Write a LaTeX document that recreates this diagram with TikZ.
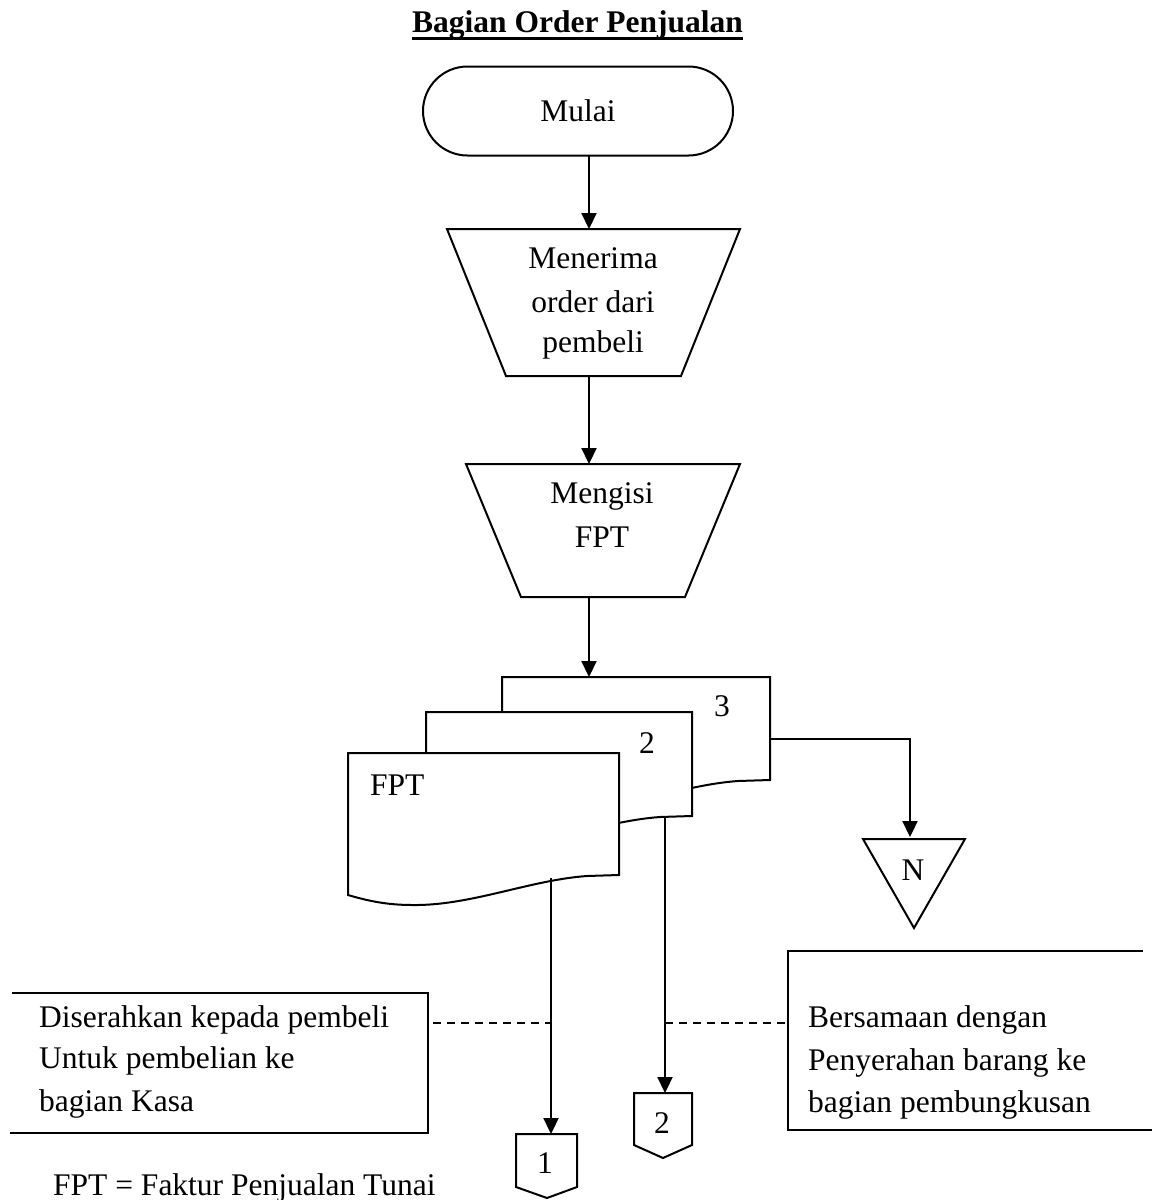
\documentclass[tikz,border=0pt]{standalone}
\usepackage{fontspec}
\setmainfont{Liberation Serif}
\usetikzlibrary{arrows.meta}
\tikzset{
  shp/.style={line width=2pt, line join=miter},
  flow/.style={line width=2.2pt, -{Triangle[length=16pt,width=15pt]}},
  txt/.style={inner sep=0pt, font=\fontsize{31.5}{41}\selectfont},
  dashln/.style={line width=1.5pt, dash pattern=on 8pt off 6pt},
}
\begin{document}
\begin{tikzpicture}[x=1pt,y=-1pt]
\useasboundingbox (0,0) rectangle (1152,1200);

% title
\node[txt, font=\fontsize{31.5}{41}\selectfont\bfseries, anchor=base] (title) at (577.5,32) {Bagian Order Penjualan};
\draw[line width=3pt] ([yshift=-6pt]title.base west) -- ([yshift=-6pt]title.base east);

% start
\node[shp, draw, rounded corners=44.5pt, minimum width=310pt, minimum height=89pt, txt] (mulai) at (578,111) {Mulai};

% manual operation 1
\draw[shp] (447,229) -- (740,229) -- (681,376) -- (506,376) -- cycle;
\node[txt, anchor=base] (t1a) at (593,268) {Menerima};
\node[txt, anchor=base] (t1b) at (593,312) {order dari};
\node[txt, anchor=base] (t1c) at (593,352) {pembeli};

% manual operation 2
\draw[shp] (466,464) -- (740,464) -- (685,597) -- (521,597) -- cycle;
\node[txt, anchor=base] (t2a) at (602,503) {Mengisi};
\node[txt, anchor=base] (t2b) at (602,547) {FPT};

% connection points
\coordinate (m1) at (589,156);
\coordinate (op1top) at (589,229);
\coordinate (op1bot) at (589,376);
\coordinate (op2top) at (589,464);
\coordinate (op2bot) at (589,597);
\coordinate (doctop) at (589,677);

\draw[flow] (m1) -- (op1top);
\draw[flow] (op1bot) -- (op2top);
\draw[flow] (op2bot) -- (doctop);

% documents
\draw[shp, fill=white] (502,677) -- (770,677) -- (770,780) -- (738,781)
  .. controls (681,785) and (621,811) .. (563,810)
  .. controls (536,810) and (519,805) .. (502,800) -- cycle;
\node[txt, anchor=base] (n3) at (722,716) {3};
\draw[shp, fill=white] (426,712) -- (692,712) -- (692,816) -- (660,817)
  .. controls (603,821) and (543,847) .. (485,846)
  .. controls (458,846) and (441,841) .. (426,836) -- cycle;
\node[txt, anchor=base] (n2) at (647,753) {2};
\draw[shp, fill=white] (348,753) -- (619,753) -- (619,875) -- (587,876)
  .. controls (530,880) and (470,906) .. (412,905)
  .. controls (385,905) and (365,900) .. (348,895) -- cycle;
\node[txt, anchor=base west] (fpt) at (370,795) {FPT};

% off-page / file symbols
\draw[shp] (863,839) -- (965,839) -- (914,928) -- cycle;
\node[txt, anchor=base] (nfile) at (913,880) {N};
\draw[shp] (516,1134) -- (577,1134) -- (577,1187) -- (547,1198) -- (516,1187) -- cycle;
\node[txt, anchor=base] (c1) at (545,1173) {1};
\draw[shp] (634,1093) -- (692,1093) -- (692,1145) -- (663,1158) -- (634,1145) -- cycle;
\node[txt, anchor=base] (c2) at (662,1133) {2};

\coordinate (d3r) at (770,739);
\coordinate (nbend) at (910,739);
\coordinate (ntop) at (910,837);
\coordinate (d1b) at (551,878);
\coordinate (c1top) at (551,1134);
\coordinate (d2b) at (665,816);
\coordinate (c2top) at (665,1093);

\draw[flow] (d3r) -- (nbend) -- (ntop);
\draw[flow] (d1b) -- (c1top);
\draw[flow] (d2b) -- (c2top);

% annotations
\draw[shp] (12,993) -- (428,993) -- (428,1133) -- (10,1133);
\node[txt, anchor=base west] (la) at (39,1027) {Diserahkan kepada pembeli};
\node[txt, anchor=base west] (lb) at (39,1068) {Untuk pembelian ke};
\node[txt, anchor=base west] (lc) at (39,1111) {bagian Kasa};

\draw[shp] (1143,951) -- (788,951) -- (788,1130) -- (1152,1130);
\node[txt, anchor=base west] (ra) at (808,1027) {Bersamaan dengan};
\node[txt, anchor=base west] (rb) at (808,1070) {Penyerahan barang ke};
\node[txt, anchor=base west] (rc) at (808,1112) {bagian pembungkusan};

\coordinate (lbox) at (433,1023);
\coordinate (l1) at (551,1023);
\coordinate (l2) at (665,1023);
\coordinate (rbox) at (788,1023);
\draw[dashln] (lbox) -- (l1);
\draw[dashln] (l2) -- (rbox);

% legend
\node[txt, anchor=base west] (legend) at (53,1195) {FPT = Faktur Penjualan Tunai};
\end{tikzpicture}
\end{document}
